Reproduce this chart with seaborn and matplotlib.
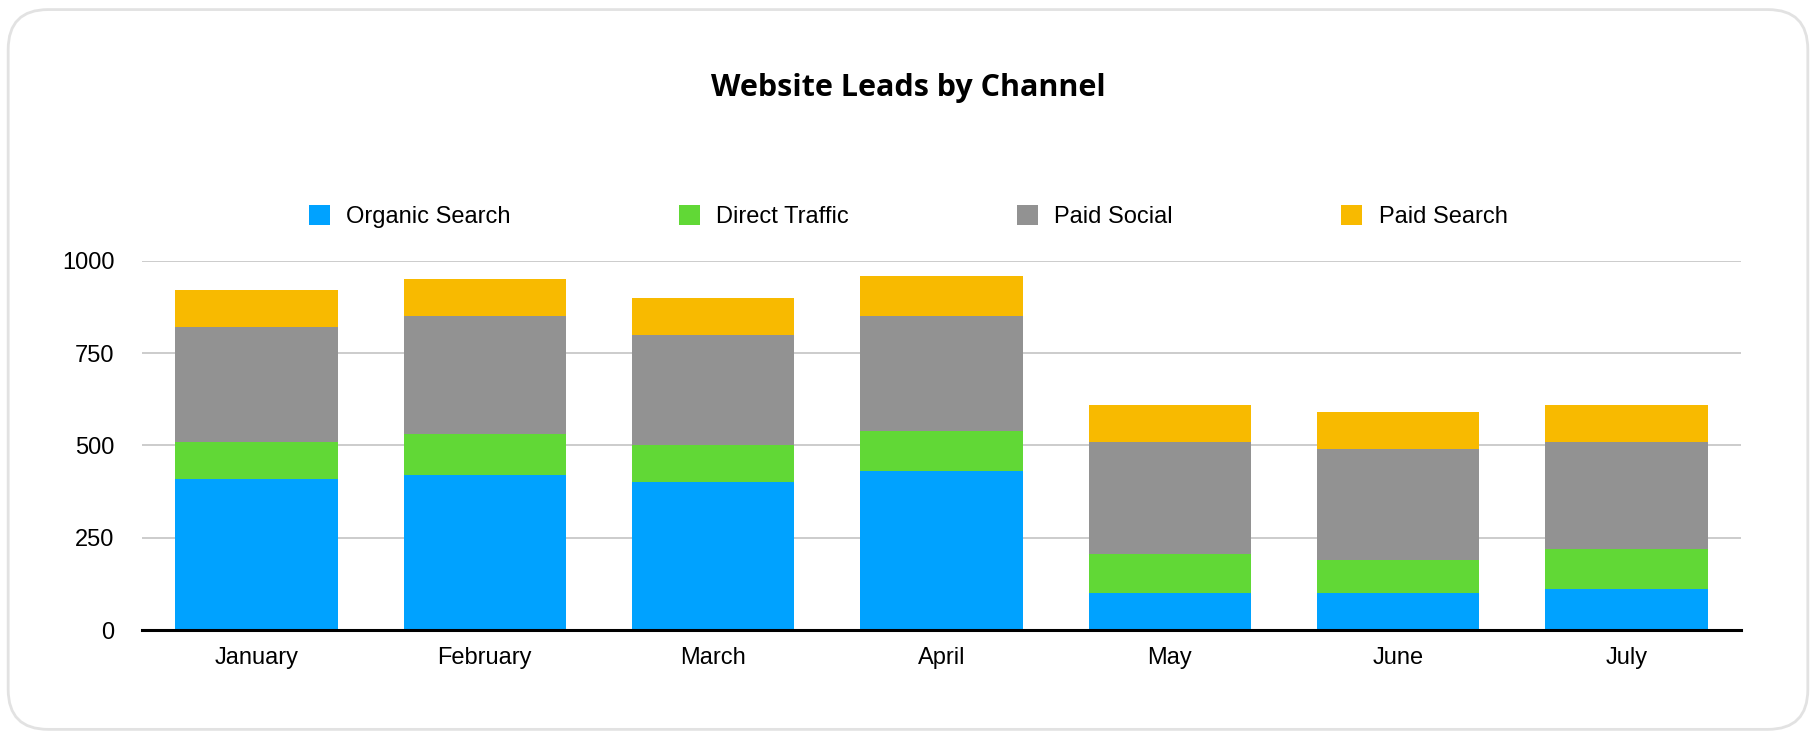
import numpy as np
import pandas as pd
import matplotlib
matplotlib.use('Agg')
import matplotlib.pyplot as plt
from matplotlib.patches import Patch, FancyBboxPatch
import seaborn as sns

sns.set_theme(style="white")
plt.rcParams['font.family'] = ['Liberation Sans', 'DejaVu Sans']
plt.rcParams['text.color'] = 'black'

months = ['January', 'February', 'March', 'April', 'May', 'June', 'July']
organic_search = [410, 420, 400, 430, 100, 100, 110]
direct_traffic = [100, 110, 100, 110, 105, 90, 110]
paid_social = [310, 320, 300, 310, 305, 300, 290]
paid_search = [100, 100, 100, 110, 100, 100, 100]

series_names = ['Organic Search', 'Direct Traffic', 'Paid Social', 'Paid Search']
colors = ['#00A2FF', '#61D836', '#929292', '#F8BA00']

df = pd.DataFrame({'month': months,
                   'Organic Search': organic_search,
                   'Direct Traffic': direct_traffic,
                   'Paid Social': paid_social,
                   'Paid Search': paid_search})
# stacked totals, drawn top layer first so lower layers sit on top
cum = df[series_names].cumsum(axis=1)

fig = plt.figure(figsize=(18.16, 7.36), dpi=100)
ax = fig.add_axes([0.0784, 0.144, 0.8801, 0.5016])

for name, col in reversed(list(zip(series_names, colors))):
    sns.barplot(x=df['month'], y=cum[name], color=col, width=0.71,
                saturation=1, ax=ax, zorder=3, edgecolor='none', linewidth=0)

ax.set_ylim(0, 1000)
ax.set_yticks([0, 250, 500, 750, 1000])
ax.set_xlim(-0.5, len(months) - 0.5)
ax.set_xlabel('')
ax.set_ylabel('')
ax.yaxis.grid(True, color='#c4c4c4', linewidth=1.2, zorder=0)
ax.xaxis.grid(False)
for s in ['top', 'right', 'left']:
    ax.spines[s].set_visible(False)
ax.spines['bottom'].set_color('black')
ax.spines['bottom'].set_linewidth(2.2)
ax.spines['bottom'].set_zorder(4)
ax.tick_params(axis='y', length=0, pad=20, labelsize=17, labelcolor='black')
ax.tick_params(axis='x', length=0, pad=12, labelsize=17, labelcolor='black')

handles = [Patch(facecolor=c, edgecolor='none', label=n) for n, c in zip(series_names, colors)]
leg = fig.legend(handles=handles, loc='center', bbox_to_anchor=(0.5, 0.706), ncol=4,
                 frameon=False, fontsize=17, handlelength=0.9, handleheight=0.9,
                 handletextpad=0.7, columnspacing=7.1)
for t in leg.get_texts():
    t.set_color('black')

fig.text(0.5, 0.881, 'Website Leads by Channel', ha='center', va='center', color='black',
         fontsize=22, fontweight='bold', family=['Open Sans', 'DejaVu Sans'])

card = FancyBboxPatch((0.0045, 0.009), 0.991, 0.978, boxstyle='round,pad=0,rounding_size=0.022',
                      transform=fig.transFigure, facecolor='none', edgecolor='#e2e2e2',
                      linewidth=2, mutation_aspect=1816 / 736)
fig.patches.append(card)

fig.savefig('out.png', dpi=100)
